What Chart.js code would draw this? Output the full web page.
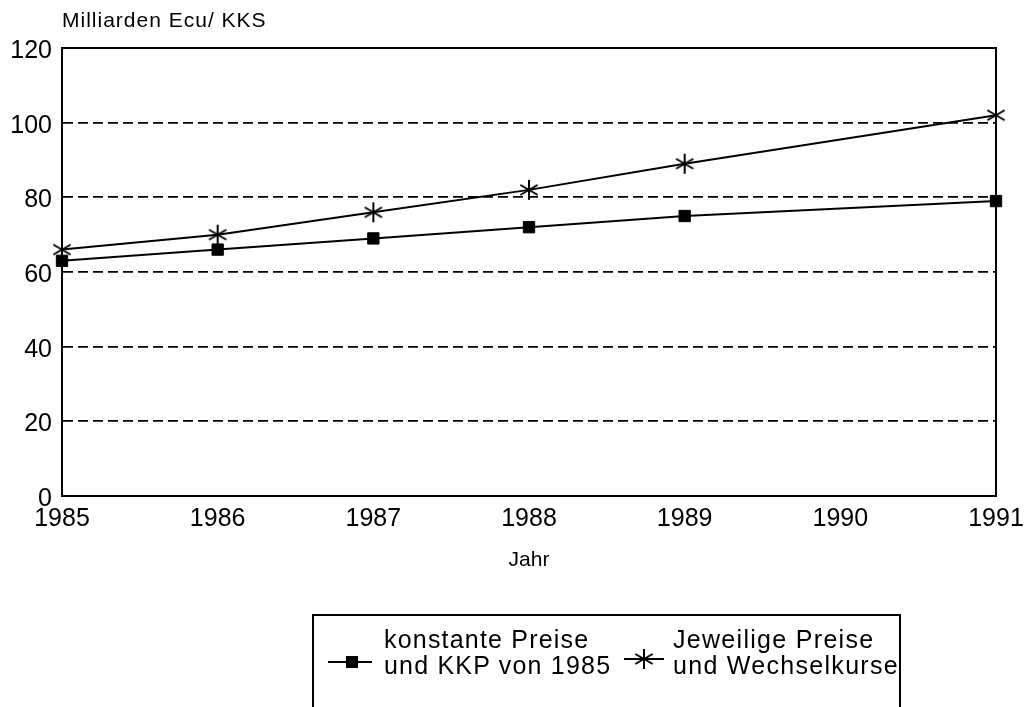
<!DOCTYPE html>
<html><head><meta charset="utf-8">
<script src="https://cdn.jsdelivr.net/npm/chart.js@4/dist/chart.umd.min.js"></script>
<style>
html,body{margin:0;padding:0;background:#fff;overflow:hidden;}
#wrap{position:relative;width:1024px;height:707px;}
#c{position:absolute;left:0;top:0;}
.t{position:absolute;font-family:"Liberation Sans",Arial,sans-serif;color:#000;white-space:nowrap;}
#ytitle{left:62px;top:9px;font-size:21px;line-height:21px;letter-spacing:1px;}
#legbox{position:absolute;left:312px;top:614px;width:589px;height:120px;border:2px solid #000;box-sizing:border-box;}
#leg1{left:384px;top:626px;font-size:25px;line-height:26px;letter-spacing:1.2px;}
#leg2{left:673px;top:626px;font-size:25px;line-height:26px;letter-spacing:1.3px;}
.mline{position:absolute;height:2px;background:#000;}
.msq{position:absolute;width:12px;height:12px;background:#000;}
</style>
</head><body>
<div id="wrap">
<canvas id="c" width="1024" height="707"></canvas>
<div class="t" id="ytitle">Milliarden Ecu/ KKS</div>
<div id="legbox"></div>
<div class="mline" style="left:328px;top:661px;width:44px;"></div>
<div class="msq" style="left:346px;top:656px;"></div>
<div class="t" id="leg1">konstante Preise<br>und KKP von 1985</div>
<div class="mline" style="left:624px;top:658px;width:40px;"></div>
<svg style="position:absolute;left:633px;top:648px;" width="22" height="22" viewBox="0 0 22 22">
<g stroke="#000" stroke-width="2"><line x1="11" y1="1" x2="11" y2="21"/><line x1="2.3" y1="6" x2="19.7" y2="16"/><line x1="2.3" y1="16" x2="19.7" y2="6"/></g></svg>
<div class="t" id="leg2">Jeweilige Preise<br>und Wechselkurse</div>
</div>
<script>
const years = [1985, 1986, 1987, 1988, 1989, 1991];
const constantPrices = [63, 66, 69, 72, 75, 79];
const currentPrices = [66, 70, 76, 82, 89, 102];
const xTickValues = [1985, 1986, 1987, 1988, 1989, 1990, 1991];
const yTickValues = [0, 20, 40, 60, 80, 100, 120];
const seriesNames = ['konstante Preise und KKP von 1985', 'Jeweilige Preise und Wechselkurse'];

const FONT = '"Liberation Sans", Arial, sans-serif';
Chart.defaults.font.family = FONT;
Chart.defaults.color = '#000';

// asterisk marker
const star = document.createElement('canvas');
star.width = 24; star.height = 24;
(function(){
  const g = star.getContext('2d');
  g.strokeStyle = '#000'; g.lineWidth = 2;
  const cx = 12, cy = 12, r = 10;
  g.beginPath();
  g.moveTo(cx, cy - r); g.lineTo(cx, cy + r);
  const a = Math.PI / 6;
  g.moveTo(cx - r*Math.cos(a), cy - r*Math.sin(a)); g.lineTo(cx + r*Math.cos(a), cy + r*Math.sin(a));
  g.moveTo(cx - r*Math.cos(a), cy + r*Math.sin(a)); g.lineTo(cx + r*Math.cos(a), cy - r*Math.sin(a));
  g.stroke();
})();

const frame = {
  id: 'frame',
  beforeDatasetsDraw(chart) {
    const {ctx, chartArea: a} = chart;
    ctx.save();
    ctx.strokeStyle = '#000';
    ctx.lineWidth = 2;
    ctx.strokeRect(a.left, a.top, a.right - a.left, a.bottom - a.top);
    ctx.restore();
  }
};

new Chart(document.getElementById('c'), {
  type: 'line',
  data: {
    datasets: [
      {
        label: seriesNames[0],
        data: years.map((x, i) => ({x, y: constantPrices[i]})),
        borderColor: '#000', borderWidth: 2, tension: 0,
        pointStyle: 'rect', pointRadius: 8, pointBackgroundColor: '#000',
        pointBorderColor: '#000', pointBorderWidth: 1, clip: false
      },
      {
        label: seriesNames[1],
        data: years.map((x, i) => ({x, y: currentPrices[i]})),
        borderColor: '#000', borderWidth: 2, tension: 0,
        pointStyle: star, pointRadius: 10, clip: false
      }
    ]
  },
  options: {
    responsive: false,
    animation: false,
    events: [],
    layout: {padding: {top: 48, right: 28, left: 0, bottom: 131}},
    plugins: {legend: {display: false}, tooltip: {enabled: false}},
    scales: {
      x: {
        type: 'linear', min: 1985, max: 1991,
        afterBuildTicks: s => { s.ticks = xTickValues.map(v => ({value: v})); },
        afterFit: s => { s.height = 80; s.paddingLeft = 0; s.paddingRight = 0; },
        grid: {display: false, drawTicks: false},
        border: {display: true, color: '#000', width: 2},
        ticks: {color: '#000', font: {size: 25}, padding: 8, maxRotation: 0, autoSkip: false, callback: v => String(v)},
        title: {display: true, text: 'Jahr', color: '#000', font: {size: 21}, padding: {top: 0, bottom: 3}}
      },
      y: {
        min: 0, max: 120,
        afterBuildTicks: s => { s.ticks = yTickValues.map(v => ({value: v})); },
        afterFit: s => { s.width = 62; },
        grid: {
          color: c => (c.tick && (c.tick.value === 0 || c.tick.value === 120)) ? 'rgba(0,0,0,0)' : '#000',
          lineWidth: 1.8, drawTicks: false
        },
        border: {display: true, color: '#000', width: 2, dash: [10, 5]},
        ticks: {color: '#000', font: {size: 25}, padding: 10, labelOffset: 3}
      }
    }
  },
  plugins: [frame]
});
</script>
</body></html>
